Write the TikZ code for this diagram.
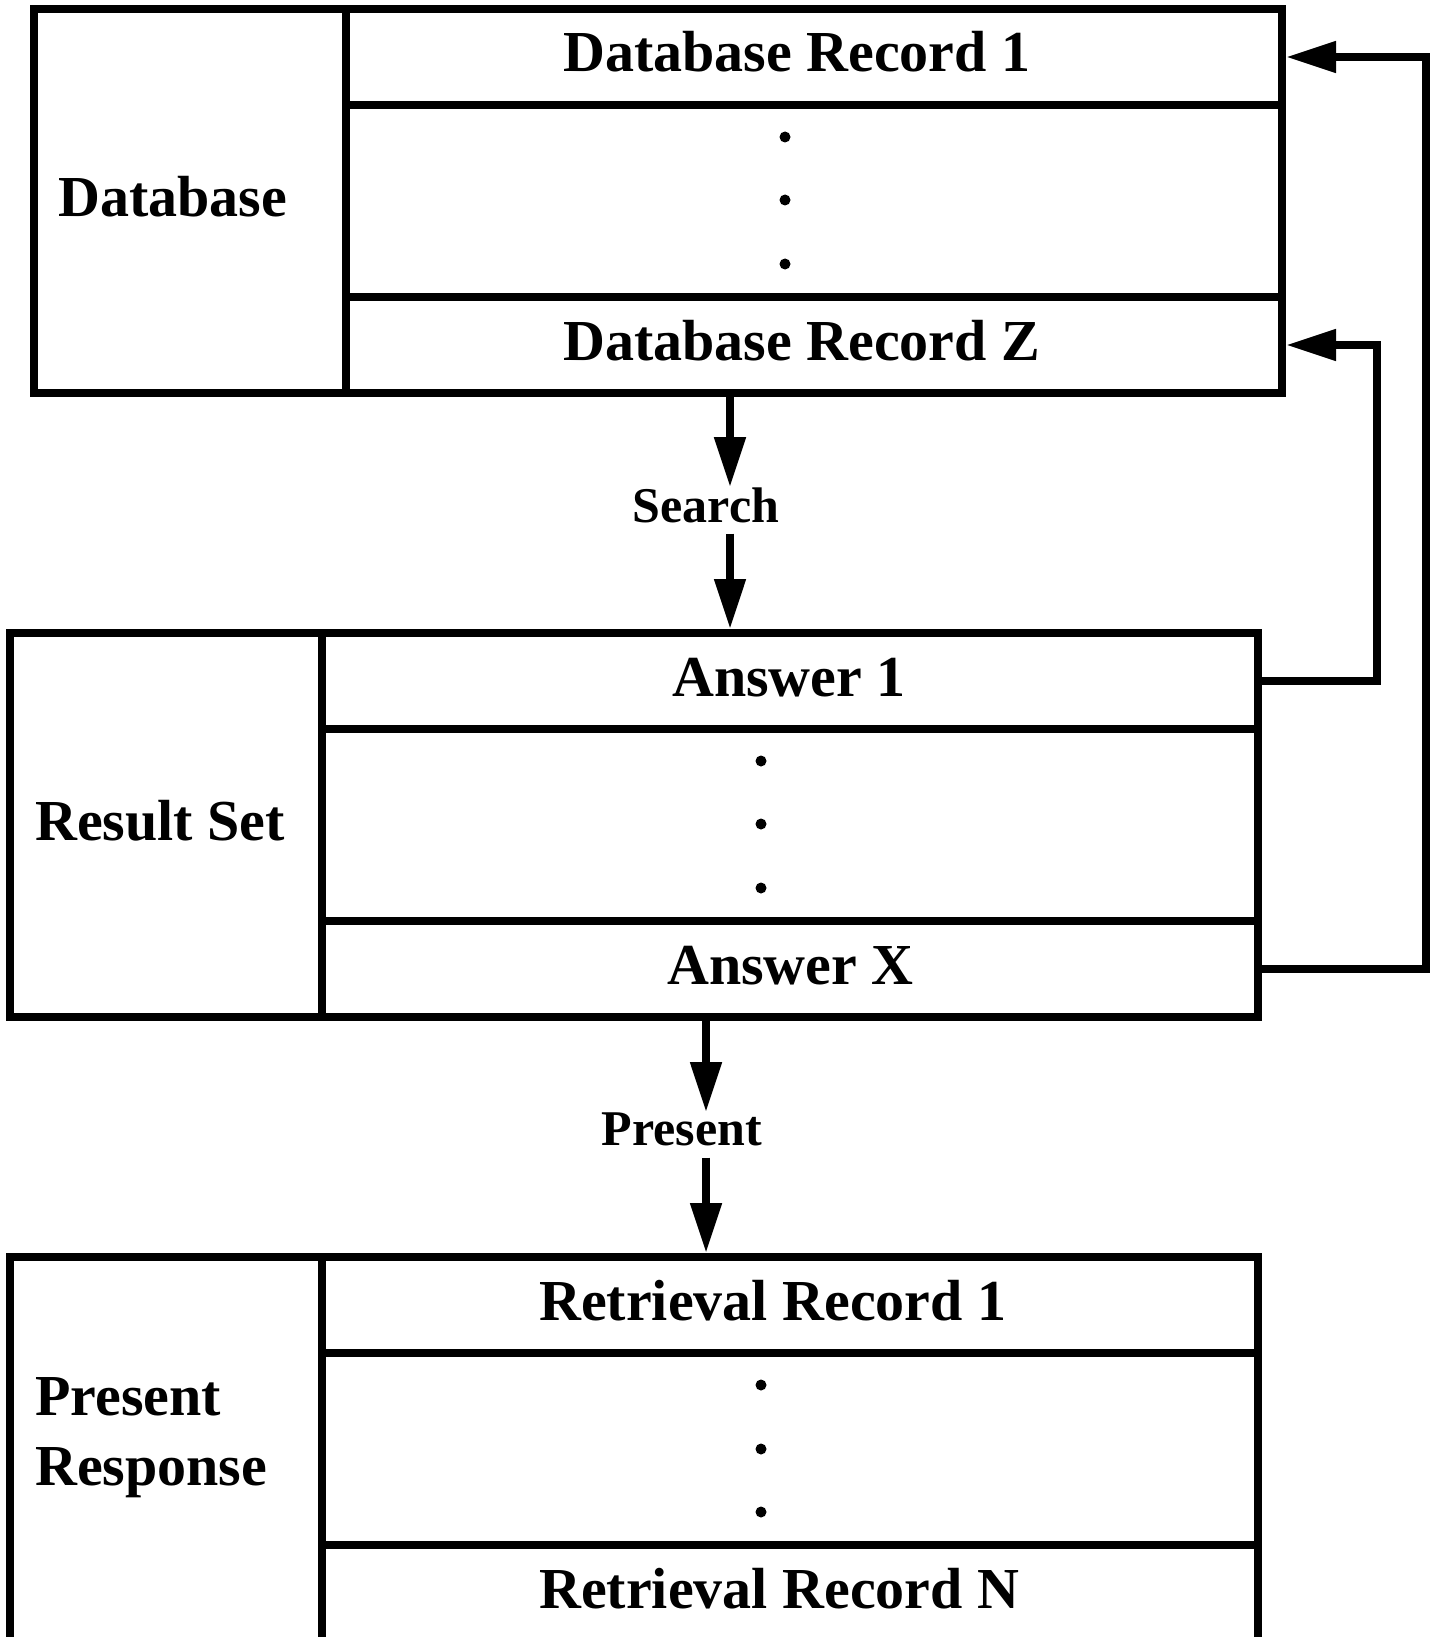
\documentclass[tikz,border=0pt]{standalone}
\usepackage{fontspec}
\setmainfont{Liberation Serif}
\usetikzlibrary{arrows.meta,calc}
\begin{document}
\begin{tikzpicture}[x=1pt,y=-1pt,
  rowcell/.style={draw, line width=8pt, inner sep=0pt, outer sep=0pt, minimum width=936pt, minimum height=96pt},
  midcell/.style={rowcell, minimum height=192pt},
  namecell/.style={draw, line width=8pt, inner sep=0pt, outer sep=0pt, minimum width=312pt, minimum height=384pt},
  txt/.style={inner sep=0pt, anchor=base west, font=\fontsize{58}{70}\selectfont\bfseries},
  lbl/.style={inner sep=0pt, anchor=base, font=\fontsize{50}{60}\selectfont\bfseries},
  arr/.style={line width=8pt, -{Triangle[length=50pt,width=30pt]}},
  dotmark/.style={fill, circle, inner sep=0pt, minimum size=11pt}]
\useasboundingbox (0,0) rectangle (1434,1637);
\fill[white] (0,0) rectangle (1434,1637);

% Database block
\node[namecell] (dbname) at (190,201) {};
\node[rowcell] (db1) at (814,57) {};
\node[midcell] (db2) at (814,201) {};
\node[rowcell] (db3) at (814,345) {};
\node[txt] (tdb) at (58,217) {Database};
\node[txt] (tdb1) at (563,72) {Database Record 1};
\node[txt] (tdb3) at (563,360) {Database Record Z};
\node[dotmark] (dd1) at (785,137) {};
\node[dotmark] (dd2) at (785,200) {};
\node[dotmark] (dd3) at (785,264) {};

% Result set block
\node[namecell] (rsname) at (166,825) {};
\node[rowcell] (ans1) at (790,681) {};
\node[midcell] (ans2) at (790,825) {};
\node[rowcell] (ansX) at (790,969) {};
\node[txt] (trs) at (35,840) {Result Set};
\node[txt] (tans1) at (672,696) {Answer 1};
\node[txt] (tansX) at (667,984) {Answer X};
\node[dotmark] (rd1) at (761,761) {};
\node[dotmark] (rd2) at (761,824) {};
\node[dotmark] (rd3) at (761,888) {};

% Present response block
\node[namecell] (prname) at (166,1449) {};
\node[rowcell] (ret1) at (790,1305) {};
\node[midcell] (ret2) at (790,1449) {};
\node[rowcell] (retN) at (790,1593) {};
\node[txt, align=left] (tpr) at (35,1485) {Present\\Response};
\node[txt] (tret1) at (539,1320) {Retrieval Record 1};
\node[txt] (tretN) at (539,1608) {Retrieval Record N};
\node[dotmark] (pd1) at (761,1385) {};
\node[dotmark] (pd2) at (761,1449) {};
\node[dotmark] (pd3) at (761,1512) {};

% Labels
\node[lbl] (search) at (706,522) {Search};
\node[lbl] (present) at (682,1145) {Present};

\coordinate (sx) at (730,0);
\coordinate (px) at (706,0);

% Connectors
\draw[arr] (sx |- db3.south) -- (sx |- search.north);
\draw[arr] ($(sx |- search.south)+(0,11)$) -- ($(sx |- ans1.north)+(0,-4)$);
\draw[arr] (px |- ansX.south) -- (px |- present.north);
\draw[arr] ($(px |- present.south)+(0,12)$) -- ($(px |- ret1.north)+(0,-4)$);
\draw[arr] (ans1.east) -- ++(119,0) |- ($(db3.east)+(4,0)$);
\draw[arr] (ansX.east) -- ++(168,0) |- ($(db1.east)+(4,0)$);
\end{tikzpicture}
\end{document}
